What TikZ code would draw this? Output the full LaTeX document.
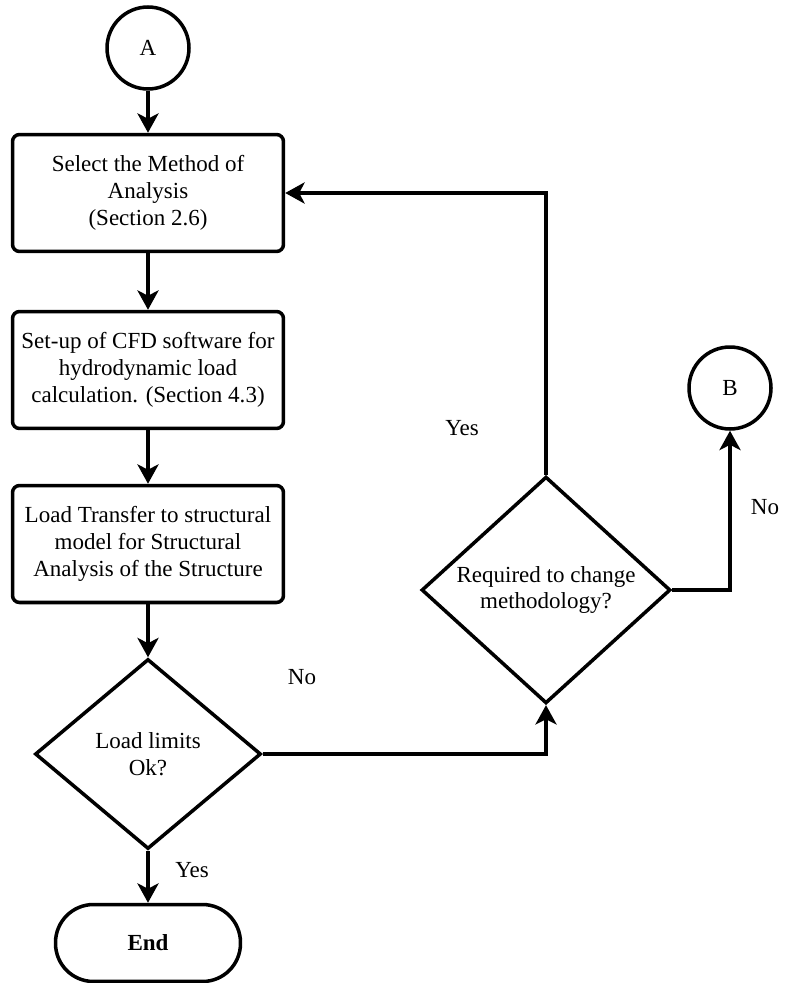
\documentclass[tikz,border=0pt]{standalone}
\usepackage{fontspec}
\setmainfont{Liberation Serif}
\usetikzlibrary{shapes.geometric, arrows.meta}

\begin{document}
\begin{tikzpicture}[x=0.02cm, y=-0.02cm, font=\fontsize{13.1}{15.3}\selectfont]
	\tikzset{boite/.style={rectangle, rounded corners=4pt, draw=black, line width=2pt, align=center, minimum width=5.42cm, minimum height=2.34cm, inner sep=2pt},
	connect/.style={circle, draw=black, line width=2pt, minimum size=1.64cm, inner sep=0pt},
	losange/.style={diamond, draw=black, line width=2pt, align=center, inner sep=0pt},
	fin/.style={rectangle, rounded corners=0.76cm, draw=black, line width=2pt, minimum width=3.7cm, minimum height=1.54cm, font=\fontsize{13.1}{15.3}\selectfont\bfseries},
	fleche/.style={line width=2pt, -{Stealth[length=11pt, width=12pt, inset=3pt]}}};

	\useasboundingbox (0,0) rectangle (785,983);

	\node[connect] (A) at (148,48) {A};
	\node[connect] (B) at (730,388) {B};

	\foreach \name/\y/\txt in {sel/193/{Select the Method of\\Analysis\\(Section 2.6)},
		cfd/370/{Set-up of CFD software for\\hydrodynamic load\\calculation. (Section 4.3)},
		trans/544/{Load Transfer to structural\\model for Structural\\Analysis of the Structure}}{
		\node[boite] (\name) at (148,\y) {\txt};
	}

	\node[losange, minimum width=4.52cm, minimum height=3.8cm] (lim) at (148,754) {Load limits\\Ok?};
	\node[losange, minimum width=4.98cm, minimum height=4.22cm] (chg) at (546,590) {Required to change\\methodology?};
	\node[fin] (end) at (148,943) {End};

	\draw[fleche] (A) -- (sel);
	\draw[fleche] (sel) -- (cfd);
	\draw[fleche] (cfd) -- (trans);
	\draw[fleche] (trans) -- (lim);
	\draw[fleche] (lim) -- (end);
	\draw[fleche] (lim.east) -| (chg.south);
	\draw[fleche] (chg.north) |- (sel.east);
	\draw[fleche] (chg.east) -| (B.south);

	\node (yes-lim) at (192,870) {Yes};
	\node (no-lim) at (302,677) {No};
	\node (yes-chg) at (462,428) {Yes};
	\node (no-chg) at (765,507) {No};

\end{tikzpicture}
\end{document}
